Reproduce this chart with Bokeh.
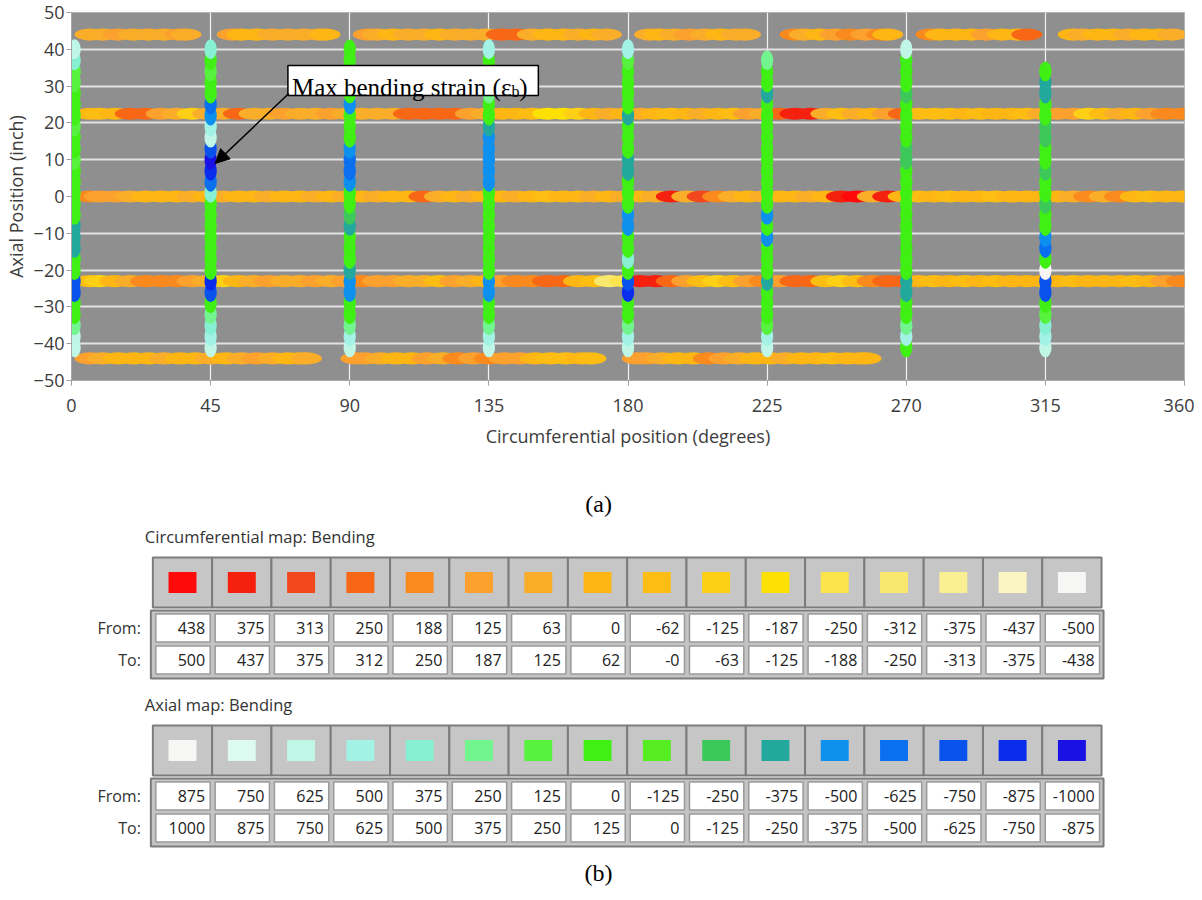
import numpy as np
from bokeh.plotting import figure
from bokeh.layouts import column
from bokeh.models import Range1d, FixedTicker, Arrow, NormalHead, ColumnDataSource
from bokeh.core.properties import value
from bokeh.embed import file_html
from bokeh.resources import INLINE

# ---------------- axes ----------------
X_TICKS = [0, 45, 90, 135, 180, 225, 270, 315, 360]
Y_TICKS = [-50, -40, -30, -20, -10, 0, 10, 20, 30, 40, 50]

# ---------------- legend tables ----------------
CIRC_FROM = ["438", "375", "313", "250", "188", "125", "63", "0", "-62", "-125", "-187", "-250", "-312", "-375", "-437", "-500"]
CIRC_TO = ["500", "437", "375", "312", "250", "187", "125", "62", "-0", "-63", "-125", "-188", "-250", "-313", "-375", "-438"]
CIRC_COLORS = ["#fe0a0a", "#f5200e", "#f2461c", "#f76716", "#fb8a1e", "#fca02e", "#f9ad28", "#fdb614",
               "#fdbd12", "#fdd016", "#fde104", "#fbe44c", "#f9e86e", "#faef92", "#fbf5c4", "#f6f6f4"]
AXIAL_FROM = ["875", "750", "625", "500", "375", "250", "125", "0", "-125", "-250", "-375", "-500", "-625", "-750", "-875", "-1000"]
AXIAL_TO = ["1000", "875", "750", "625", "500", "375", "250", "125", "0", "-125", "-250", "-375", "-500", "-625", "-750", "-875"]
AXIAL_COLORS = ["#f6f6f4", "#dcfaef", "#bff6e6", "#a3f2e6", "#88f0d2", "#72f48e", "#56f23e", "#40f014",
                "#56ee22", "#3cc95a", "#22a89c", "#0e90ee", "#0a70f0", "#0a52ee", "#0a2cec", "#1a12e4"]

# ---------------- circumferential gauge rows (bending strain) ----------------
H_LEVELS = [44, 22.5, 0, -23, -44]

H44_POS = [6, 10, 15, 20, 25, 30, 35, 37,
           52, 55, 60, 65, 70, 75, 80, 82,
           96, 99, 104, 109, 114, 119, 124, 129, 134, 139, 144, 149, 154, 159, 164, 169, 173,
           187, 190, 195, 200, 205, 210, 215, 218,
           234, 237, 242, 247, 252, 257, 262, 264,
           278, 281, 286, 291, 296, 301, 306, 309,
           324, 327, 332, 337, 342, 347, 352, 356]
H44_VAL = [120, 100, 140, 120, 90, 110, 130, 100,
           140, 40, 30, 90, 120, 100, 90, 60,
           140, 90, 60, 100, 90, 60, 90, 110, 100, 300, 260, 100, 60, 20, 90, 60, 90,
           100, 60, 90, 140, 100, 60, 90, 110,
           200, 90, 60, 140, 200, 140, 200, 60,
           200, 60, 30, 60, 180, 40, 20, 300,
           60, 90, 30, 60, 90, 30, 60, 90]

FULL_POS = [6, 9, 14, 19, 24, 29, 34, 39,
            44, 49, 54, 59, 64, 69, 74, 79,
            84, 89, 94, 99, 104, 109, 114, 119,
            124, 129, 134, 139, 144, 149, 154, 159,
            164, 169, 174, 179, 184, 189, 194, 199,
            204, 209, 214, 219, 224, 229, 234, 239,
            244, 249, 254, 259, 264, 269, 274, 279,
            284, 289, 294, 299, 304, 309, 314, 319,
            324, 329, 334, 339, 344, 349, 354, 359]
H22_VAL = [20, -40, 30, 280, 300, 150, 120, -80,
           100, 90, 250, 120, 90, 140, 100, 90,
           140, 100, 90, 120, 90, 280, 290, 280,
           300, 180, 100, 60, 30, -40, -150, -150,
           -100, 60, 90, 60, 90, 60, -40, 20,
           90, 20, -40, 140, 100, 300, 420, 380,
           90, -40, 100, 30, 150, 300, -40, -60,
           -40, 20, -60, 0, 60, -40, 90, 160,
           140, -100, -40, 90, 60, 140, 200, 200]
H0_VAL = [200, 180, 140, 90, 60, 30, 60, 90,
          60, 90, 30, 60, 90, 60, 30, 90,
          60, 90, 60, 90, 30, 60, 280, 120,
          60, 90, 30, 60, 90, 30, -40, 30,
          60, 90, 60, 90, 60, 90, 380, 90,
          330, 200, 90, 60, 90, 30, 60, 90,
          60, 420, 440, 90, 400, 60, -40, 30,
          -40, 30, 60, -40, 30, 60, 30, 60,
          90, 200, 90, 200, 30, -40, 30, 60]
HM23_VAL = [-60, -120, 30, 90, 230, 240, 220, 140,
            100, -120, 20, 90, 140, 120, 90, 140,
            100, 140, 190, 160, 140, 90, 90, -60,
            140, 100, 60, 140, 190, 240, 280, 260,
            30, -60, -280, -250, 420, 400, 300, 140,
            -60, -100, -40, 140, 200, 180, 280, 300,
            -40, -100, -20, 200, 280, 300, 20, -20,
            60, -40, 30, -40, 30, 60, 60, 30,
            -40, 30, 60, 30, -40, 60, 180, 200]

HM44_POS = [6, 10, 15, 20, 25, 30, 35, 40, 45, 50, 55, 60, 65, 70, 74, 76,
            92, 95, 100, 105, 110, 115, 120, 125, 130, 135, 140, 145, 150, 155, 160, 165, 168,
            183, 186, 191, 196, 201, 206, 211, 216, 221, 226, 231, 236, 241, 246, 251, 255, 257]
HM44_VAL = [140, 100, 60, 30, 60, 90, 60, 30, 90, 60, 100, 140, 90, 60, 30, 90,
            180, 140, 90, 30, 60, 140, 100, 200, 180, 200, 150, 140, 30, -40, -20, 30, -40,
            180, 140, 90, 60, 30, 200, 140, 90, 60, 30, 90, 60, 30, -40, 30, 60, 30]

H_POS = [H44_POS, FULL_POS, FULL_POS, FULL_POS, HM44_POS]
H_VAL = [H44_VAL, H22_VAL, H0_VAL, HM23_VAL, HM44_VAL]

# ---------------- axial gauge columns (bending strain) ----------------
V_X = [1, 45, 90, 135, 180, 225, 270, 315]
V_POS = [-41, -38, -35, -32, -29, -26, -23, -20, -17, -14, -11, -8, -5, -2,
         1, 4, 7, 10, 13, 16, 19, 22, 25, 28, 31, 34, 37, 40]
V0_VAL = [700, 650, 300, 100, 60, -700, -650, 80, 50, -300, -300, -300, 60, 60,
          80, 100, 60, 150, 100, 60, 150, 80, 100, 60, 150, 200, 450, 700]
V45_VAL = [700, 600, 450, 300, 100, -650, -800, 60, 80, 60, 60, 80, 60, 100,
           450, -560, -800, -900, -700, 700, 600, -450, -560, 100, 80, 150, 100, 450]
V90_VAL = [700, 600, 300, 80, 60, -500, -400, -300, 80, 60, 100, -300, -250, 60,
           80, -500, -600, -560, -450, 60, 80, 100, -450, 60, 80, 60, 80, 100]
V135_VAL = [700, 550, 300, 100, 60, -400, -500, 60, 80, 100, 60, 80, 60, 100,
            60, -450, -500, -450, -500, -400, -300, 60, 80, 300, 60, 100, 60, 550]
V180_VAL = [700, 600, 300, 80, 60, -800, -650, 80, 450, 60, 80, -450, -500, 60,
            80, 60, -300, -300, 60, 80, 60, -300, 80, 60, 100, 80, 150, 600]
V225_VAL = [700, 550, 150, 80, 60, 80, -350, 60, 80, 60, -450, 80, -450, 60,
            80, 60, 100, 60, 80, 60, 100, 60, 80, -300, 60, 100, 300, None]
V270_VAL = [100, 500, 300, 80, 60, -300, -280, 80, 60, 100, 60, 80, 60, 100,
            60, 80, 100, -200, -200, 60, 80, 60, 80, -150, 60, 100, 80, 700]
V315_VAL = [700, 550, 450, 150, 60, -700, -650, 950, 60, -560, -500, 80, 60, -200,
            60, 80, -200, 60, 100, -200, -200, 60, 80, -300, -300, 60, None, None]
V_VAL = [V0_VAL, V45_VAL, V90_VAL, V135_VAL, V180_VAL, V225_VAL, V270_VAL, V315_VAL]

# ---------------- annotation ----------------
ANN_TEXT = "Max bending strain (\u03b5"
ANN_SUB = "b"
ANN_BOX = dict(left=70.0, right=151.0, top=35.6, bottom=27.45)
ANN_TEXT_XY = (71.3, 29.6)
ANN_SUB_XY = (142.3, 28.4)
ANN_CLOSE_XY = (144.8, 29.6)
ARROW_START = (70.3, 28.0)
ARROW_END = (46.5, 9.0)


def bin_color(v, froms, colors):
    for f, c in zip(froms, colors):
        if v >= float(f):
            return c
    return colors[-1]


TICK_FONT = "Open Sans"
AX_COLOR = "#3c3c3c"
W = 1194
BORDER_L, BORDER_R = 69, 10

p = figure(width=W, height=460, x_range=Range1d(0, 360), y_range=Range1d(-50, 50),
           output_backend="svg", toolbar_location=None,
           min_border_left=BORDER_L, min_border_right=BORDER_R, min_border_top=12, min_border_bottom=80,
           background_fill_color="#8f8f8f", border_fill_color="white")
p.outline_line_color = "#b4b4b4"
p.xaxis.ticker = FixedTicker(ticks=X_TICKS)
p.yaxis.ticker = FixedTicker(ticks=Y_TICKS)
p.xgrid.ticker = FixedTicker(ticks=X_TICKS)
p.ygrid.ticker = FixedTicker(ticks=Y_TICKS)
p.xgrid.grid_line_color = "#f2f2f2"
p.xgrid.grid_line_width = 1.2
p.ygrid.grid_line_color = "#e2e2e2"
p.ygrid.grid_line_width = 2
for ax in (p.xaxis[0], p.yaxis[0]):
    ax.major_label_text_font = TICK_FONT
    ax.major_label_text_font_size = "18px"
    ax.major_label_text_color = AX_COLOR
    ax.axis_label_text_font = TICK_FONT
    ax.axis_label_text_font_size = "18px"
    ax.axis_label_text_font_style = "normal"
    ax.axis_label_text_color = AX_COLOR
    ax.axis_line_color = "#a8a8a8"
    ax.major_tick_line_color = "#a0a0a0"
    ax.major_tick_out = 5
    ax.major_tick_in = 0
    ax.minor_tick_line_color = None
p.xaxis.axis_label = "Circumferential position (degrees)"
p.yaxis.axis_label = "Axial Position (inch)"
p.xaxis.major_label_standoff = 13
p.xaxis.axis_label_standoff = 9
p.yaxis.major_label_standoff = 2
p.yaxis.axis_label_standoff = 3

# horizontal rows
hx, hy, hc = [], [], []
for level, xs, vs in zip(H_LEVELS, H_POS, H_VAL):
    for xv, v in zip(xs, vs):
        hx.append(xv)
        hy.append(level)
        hc.append(bin_color(v, CIRC_FROM, CIRC_COLORS))
p.ellipse(x="x", y="y", width=10.0, height=3.3, fill_color="c", line_color=None,
          source=ColumnDataSource(dict(x=hx, y=hy, c=hc)))

# vertical columns
vx, vy, vc = [], [], []
for xpos, vs in zip(V_X, V_VAL):
    for yv, v in zip(V_POS, vs):
        if v is None:
            continue
        vx.append(xpos)
        vy.append(yv)
        vc.append(bin_color(v, AXIAL_FROM, AXIAL_COLORS))
p.ellipse(x="x", y="y", width=4.0, height=5.4, fill_color="c", line_color=None,
          source=ColumnDataSource(dict(x=vx, y=vy, c=vc)))

# annotation
p.quad(left=[ANN_BOX["left"]], right=[ANN_BOX["right"]], top=[ANN_BOX["top"]], bottom=[ANN_BOX["bottom"]],
       fill_color="white", line_color="black", line_width=1.5)
p.text(x=[ANN_TEXT_XY[0]], y=[ANN_TEXT_XY[1]], text=[ANN_TEXT], text_font=value("Liberation Serif"),
       text_font_size="25px", text_baseline="alphabetic", text_align="left", text_color="black")
p.text(x=[ANN_SUB_XY[0]], y=[ANN_SUB_XY[1]], text=[ANN_SUB], text_font=value("Liberation Serif"),
       text_font_size="16px", text_baseline="alphabetic", text_align="left", text_color="black")
p.text(x=[ANN_CLOSE_XY[0]], y=[ANN_CLOSE_XY[1]], text=[")"], text_font=value("Liberation Serif"),
       text_font_size="25px", text_baseline="alphabetic", text_align="left", text_color="black")
p.add_layout(Arrow(end=NormalHead(size=14, fill_color="black", line_color="black"),
                   x_start=ARROW_START[0], y_start=ARROW_START[1],
                   x_end=ARROW_END[0], y_end=ARROW_END[1], line_width=1.5, line_color="black"))

# ---------------- legend panel (b): page-pixel coordinates ----------------
P2_TOP, P2_BOTTOM = 460, 896
p2 = figure(width=W, height=P2_BOTTOM - P2_TOP,
            x_range=Range1d(BORDER_L, W - BORDER_R), y_range=Range1d(P2_BOTTOM, P2_TOP),
            output_backend="svg", toolbar_location=None,
            min_border_left=BORDER_L, min_border_right=BORDER_R, min_border_top=0, min_border_bottom=0,
            x_axis_location=None, y_axis_location=None)
p2.grid.visible = False
p2.outline_line_color = None

TABLE_X0 = 150.5
COL_W = 59.4
UI_FONT = "Open Sans"


def draw_table(top, title, froms, tos, colors):
    n = len(froms)
    left = TABLE_X0 + np.arange(n) * COL_W
    p2.text(x=[TABLE_X0 - 8], y=[top - 21], text=[title], text_font=value(UI_FONT), text_font_size="16.5px",
            text_baseline="middle", text_align="left", text_color="#333333")
    p2.quad(left=left, right=left + COL_W, top=np.full(n, top), bottom=np.full(n, top + 50),
            fill_color="#c6c6c6", line_color="#7c7c7c", line_width=2)
    p2.rect(x=left + COL_W / 2, y=np.full(n, top + 25), width=28, height=21, fill_color=colors, line_color=None)
    p2.quad(left=[TABLE_X0 - 2], right=[TABLE_X0 + n * COL_W + 2], top=[top + 53], bottom=[top + 121],
            fill_color="#c4c4c4", line_color="#7c7c7c", line_width=2)
    for r, (lab, vals) in enumerate((("From:", froms), ("To:", tos))):
        y0 = top + 56.5 + r * 32
        p2.quad(left=left + 3, right=left + COL_W - 2, top=np.full(n, y0), bottom=np.full(n, y0 + 28),
                fill_color="white", line_color="#9a9a9a", line_width=1.5)
        p2.text(x=left + COL_W - 7, y=np.full(n, y0 + 14), text=vals, text_font=value(UI_FONT),
                text_font_size="16px", text_baseline="middle", text_align="right", text_color="#222222")
        p2.text(x=[TABLE_X0 - 12], y=[y0 + 14], text=[lab], text_font=value(UI_FONT),
                text_font_size="16px", text_baseline="middle", text_align="right", text_color="#333333")


p2.text(x=[597], y=[503], text=["(a)"], text_font=value("Liberation Serif"), text_font_size="24px",
        text_baseline="middle", text_align="center", text_color="black")
draw_table(557, "Circumferential map: Bending", CIRC_FROM, CIRC_TO, CIRC_COLORS)
draw_table(725, "Axial map: Bending", AXIAL_FROM, AXIAL_TO, AXIAL_COLORS)
p2.text(x=[597], y=[872], text=["(b)"], text_font=value("Liberation Serif"), text_font_size="24px",
        text_baseline="middle", text_align="center", text_color="black")

layout = column(p, p2, spacing=0)
open("out.html", "w").write(file_html(layout, INLINE))
